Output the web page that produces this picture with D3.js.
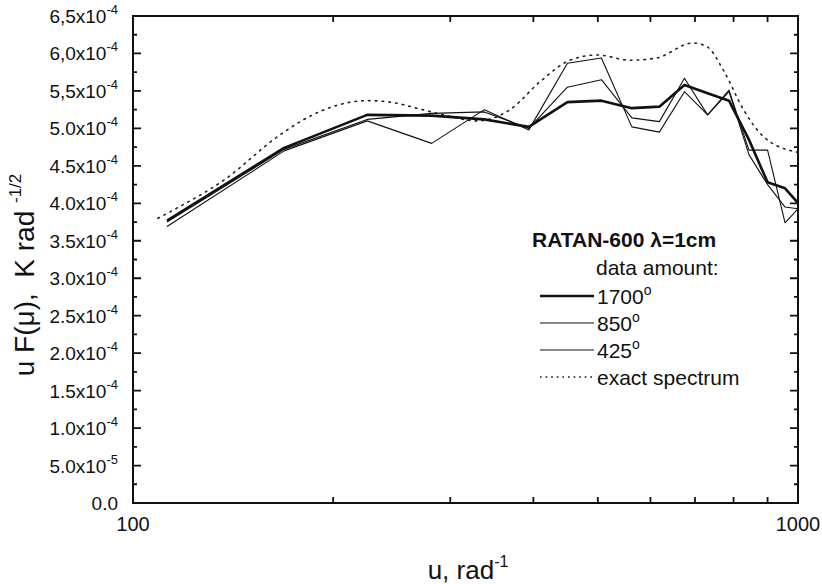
<!DOCTYPE html>
<html lang="en">
<head>
  <meta charset="UTF-8" />
  <title>RATAN-600 spectrum</title>
  <script src="https://cdn.jsdelivr.net/npm/d3@7/dist/d3.min.js"></script>
  <style>
    body { margin: 0; background: #fff; }
    text { font-family: Arial, 'Liberation Sans', sans-serif; fill: #111; }
  </style>
</head>
<body>
  <svg width="822" height="584"></svg>

  <script>
    // spatial frequency grid of the measured curves (rad^-1)
    const uGrid = [112.5, 168.75, 225, 281.25, 337.5, 393.75, 450, 506.25, 562.5,
                   618.75, 675, 731.25, 787.5, 843.75, 900, 956.25, 1012.5];

    // uF(u), units of 1e-4 K rad^-1/2
    const s1700 = [3.77, 4.74, 5.18, 5.17, 5.12, 5.02, 5.35, 5.37, 5.27,
                   5.29, 5.58, 5.47, 5.37, 4.85, 4.28, 4.20, 3.95];
    const s850  = [3.75, 4.72, 5.12, 5.20, 5.22, 5.00, 5.55, 5.65, 5.14,
                   5.09, 5.67, 5.18, 5.49, 4.65, 4.25, 3.95, 3.92];
    const s425  = [3.69, 4.70, 5.10, 4.80, 5.25, 4.98, 5.87, 5.94, 5.02,
                   4.95, 5.49, 5.18, 5.51, 4.71, 4.71, 3.74, 3.98];

    // exact spectrum (dotted)
    const exactU = [109, 115, 137, 165, 180, 203, 225, 244, 267, 293, 330, 369,
                    409, 454, 499, 559, 613, 695, 730, 772, 828, 887, 1000];
    const exactV = [3.80, 3.91, 4.31, 4.89, 5.11, 5.31, 5.37, 5.35, 5.27, 5.18, 5.10, 5.25,
                    5.62, 5.91, 5.98, 5.91, 5.94, 6.14, 6.09, 5.78, 5.25, 4.89, 4.68];

    const yTicks = [0, 0.5, 1.0, 1.5, 2.0, 2.5, 3.0, 3.5, 4.0, 4.5, 5.0, 5.5, 6.0, 6.5];
    const yTickText = ['0.0', '5.0x10|-5', '1.0x10|-4', '1.5x10|-4', '2.0x10|-4', '2.5x10|-4',
                       '3.0x10|-4', '3.5x10|-4', '4.0x10|-4', '4.5x10|-4', '5.0x10|-4',
                       '5,5x10|-4', '6,0x10|-4', '6,5x10|-4'];
    const xMinor = [200, 300, 400, 500, 600, 700, 800, 900];

    const svg = d3.select('svg');
    const mLeft = 133, mRight = 798, mTop = 16, mBottom = 503;

    const x = d3.scaleLog().domain([100, 1000]).range([mLeft, mRight]);
    const y = d3.scaleLinear().domain([0, 6.5]).range([mBottom, mTop]);

    svg.append('clipPath').attr('id', 'clip')
      .append('rect').attr('x', mLeft).attr('y', mTop)
      .attr('width', mRight - mLeft).attr('height', mBottom - mTop);

    const line = d3.line().x((d) => x(d[0])).y((d) => y(d[1]));
    const smooth = d3.line().x((d) => x(d[0])).y((d) => y(d[1])).curve(d3.curveMonotoneX);

    const plot = svg.append('g').attr('clip-path', 'url(#clip)');

    plot.append('path')
      .datum(d3.zip(exactU, exactV))
      .attr('d', smooth)
      .attr('fill', 'none').attr('stroke', '#222')
      .attr('stroke-width', 1.6).attr('stroke-dasharray', '1.6,5.2')
      .attr('stroke-linecap', 'round');

    const series = [
      { v: s425, w: 1.1 },
      { v: s850, w: 1.1 },
      { v: s1700, w: 2.6 },
    ];
    series.forEach((s) => {
      plot.append('path')
        .datum(d3.zip(uGrid, s.v))
        .attr('d', line)
        .attr('fill', 'none').attr('stroke', '#111')
        .attr('stroke-width', s.w).attr('stroke-linejoin', 'round');
    });

    // frame
    svg.append('rect')
      .attr('x', mLeft).attr('y', mTop)
      .attr('width', mRight - mLeft).attr('height', mBottom - mTop)
      .attr('fill', 'none').attr('stroke', '#111').attr('stroke-width', 2);

    // y ticks (inward on both sides), minor ticks halfway
    const yMinor = yTicks.slice(0, -1).map((t) => t + 0.25);
    const tickG = svg.append('g').attr('stroke', '#111').attr('stroke-width', 1.8);
    tickG.selectAll('.ymaj').data(yTicks).enter().append('path')
      .attr('d', (d) => `M${mLeft},${y(d)}h8M${mRight},${y(d)}h-8`);
    tickG.selectAll('.ymin').data(yMinor).enter().append('path')
      .attr('d', (d) => `M${mLeft},${y(d)}h4M${mRight},${y(d)}h-4`);
    tickG.selectAll('.xmin').data(xMinor).enter().append('path')
      .attr('d', (d) => `M${x(d)},${mBottom}v-6M${x(d)},${mTop}v6`);

    // y tick labels
    svg.append('g').selectAll('text').data(yTicks).enter().append('text')
      .attr('x', mLeft - 15).attr('y', (d) => y(d) + 7)
      .attr('text-anchor', 'end').style('font-size', '19px')
      .each(function (d, i) {
        const parts = yTickText[i].split('|');
        const t = d3.select(this);
        t.append('tspan').text(parts[0]);
        if (parts[1]) {
          t.append('tspan').attr('dy', -9).style('font-size', '13px').text(parts[1]);
        }
      });

    // x tick labels
    svg.append('g').selectAll('text').data([100, 1000]).enter().append('text')
      .attr('x', (d) => x(d)).attr('y', 531)
      .attr('text-anchor', 'middle').style('font-size', '20px')
      .text((d) => d);

    // axis titles
    const xt = svg.append('text').attr('x', 468).attr('y', 579)
      .attr('text-anchor', 'middle').style('font-size', '26px');
    xt.append('tspan').text('u, rad');
    xt.append('tspan').attr('dy', -12).style('font-size', '16px').text('-1');

    const yt = svg.append('text')
      .attr('transform', 'translate(34,275) rotate(-90)')
      .attr('text-anchor', 'middle').style('font-size', '28px');
    yt.append('tspan').text('u F(\u03bc),\u00a0\u00a0K rad\u00a0');
    yt.append('tspan').attr('dy', -13).style('font-size', '17px').text('-1/2');

    // legend
    const lg = svg.append('g');
    lg.append('text').attr('x', 532).attr('y', 247)
      .style('font-size', '21px').style('font-weight', 'bold')
      .text('RATAN-600 \u03bb=1cm');
    lg.append('text').attr('x', 596).attr('y', 275)
      .style('font-size', '21px').text('data amount:');
    const legendItems = [
      { label: '1700', w: 2.6, dash: null },
      { label: '850', w: 1.1, dash: null },
      { label: '425', w: 1.1, dash: null },
      { label: 'exact spectrum', w: 1.4, dash: '1.6,4' },
    ];
    legendItems.forEach((d, i) => {
      const ly = 296 + i * 27;
      lg.append('line').attr('x1', 540).attr('x2', 594).attr('y1', ly).attr('y2', ly)
        .attr('stroke', '#111').attr('stroke-width', d.w)
        .attr('stroke-dasharray', d.dash);
      const t = lg.append('text').attr('x', 597).attr('y', ly + 8).style('font-size', '21px');
      t.append('tspan').text(d.label);
      if (i < 3) t.append('tspan').attr('dy', -9).style('font-size', '14px').text('o');
    });
  </script>
</body>
</html>
